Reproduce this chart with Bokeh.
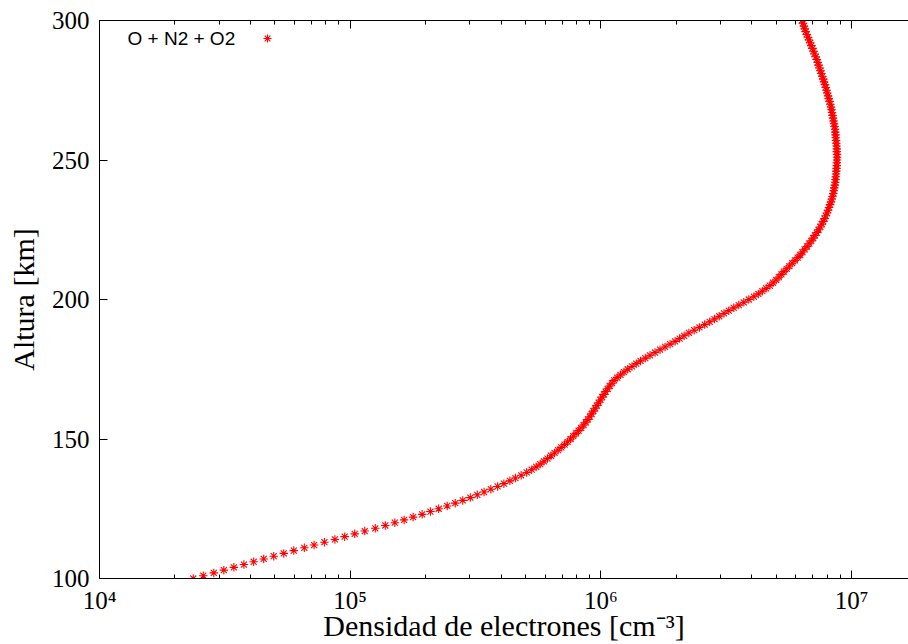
from bokeh.plotting import figure
from bokeh.models import (Range1d, FixedTicker, LogAxis, Label, Legend, LegendItem,
                          ColumnDataSource)
from bokeh.embed import file_html
from bokeh.resources import INLINE

# ---------------- data ----------------
altitude_km = [
    100, 101, 102, 103, 104, 105, 106, 107, 108, 109,
    110, 111, 112, 113, 114, 115, 116, 117, 118, 119,
    120, 121, 122, 123, 124, 125, 126, 127, 128, 129,
    130, 131, 132, 133, 134, 135, 136, 137, 138, 139,
    140, 141, 142, 143, 144, 145, 146, 147, 148, 149,
    150, 151, 152, 153, 154, 155, 156, 157, 158, 159,
    160, 161, 162, 163, 164, 165, 166, 167, 168, 169,
    170, 171, 172, 173, 174, 175, 176, 177, 178, 179,
    180, 181, 182, 183, 184, 185, 186, 187, 188, 189,
    190, 191, 192, 193, 194, 195, 196, 197, 198, 199,
    200, 201, 202, 203, 204, 205, 206, 207, 208, 209,
    210, 211, 212, 213, 214, 215, 216, 217, 218, 219,
    220, 221, 222, 223, 224, 225, 226, 227, 228, 229,
    230, 231, 232, 233, 234, 235, 236, 237, 238, 239,
    240, 241, 242, 243, 244, 245, 246, 247, 248, 249,
    250, 251, 252, 253, 254, 255, 256, 257, 258, 259,
    260, 261, 262, 263, 264, 265, 266, 267, 268, 269,
    270, 271, 272, 273, 274, 275, 276, 277, 278, 279,
    280, 281, 282, 283, 284, 285, 286, 287, 288, 289,
    290, 291, 292, 293, 294, 295, 296, 297, 298, 299,
    300,
]

# log10 of electron density [cm^-3]
log10_density = [
    4.374, 4.414, 4.456, 4.496, 4.536, 4.576, 4.615, 4.655, 4.695, 4.735,
    4.775, 4.817, 4.856, 4.897, 4.939, 4.978, 5.018, 5.058, 5.100, 5.140,
    5.178, 5.215, 5.251, 5.287, 5.320, 5.353, 5.387, 5.419, 5.449, 5.479,
    5.507, 5.534, 5.561, 5.588, 5.613, 5.637, 5.659, 5.682, 5.704, 5.724,
    5.742, 5.758, 5.773, 5.787, 5.801, 5.815, 5.829, 5.842, 5.855, 5.867,
    5.879, 5.890, 5.901, 5.911, 5.921, 5.931, 5.940, 5.948, 5.956, 5.963,
    5.970, 5.977, 5.984, 5.991, 5.998, 6.005, 6.012, 6.019, 6.027, 6.035,
    6.044, 6.053, 6.065, 6.078, 6.092, 6.107, 6.124, 6.141, 6.158, 6.177,
    6.196, 6.216, 6.236, 6.256, 6.276, 6.296, 6.314, 6.332, 6.351, 6.372,
    6.393, 6.414, 6.434, 6.453, 6.472, 6.491, 6.510, 6.530, 6.550, 6.570,
    6.590, 6.610, 6.628, 6.644, 6.659, 6.674, 6.687, 6.699, 6.710, 6.720,
    6.730, 6.741, 6.752, 6.763, 6.774, 6.785, 6.795, 6.804, 6.813, 6.822,
    6.831, 6.839, 6.847, 6.854, 6.861, 6.868, 6.875, 6.881, 6.887, 6.892,
    6.897, 6.902, 6.906, 6.910, 6.914, 6.918, 6.921, 6.924, 6.927, 6.929,
    6.931, 6.933, 6.935, 6.936, 6.937, 6.938, 6.939, 6.940, 6.941, 6.941,
    6.942, 6.942, 6.942, 6.941, 6.941, 6.940, 6.939, 6.938, 6.937, 6.936,
    6.935, 6.934, 6.932, 6.930, 6.928, 6.926, 6.924, 6.922, 6.920, 6.918,
    6.915, 6.912, 6.909, 6.906, 6.903, 6.900, 6.897, 6.894, 6.890, 6.887,
    6.883, 6.879, 6.876, 6.872, 6.868, 6.865, 6.861, 6.857, 6.852, 6.848,
    6.844, 6.839, 6.835, 6.830, 6.826, 6.821, 6.817, 6.813, 6.810, 6.806,
    6.802,
]

series_label = "O + N2 + O2"
x_major_ticks = [1e4, 1e5, 1e6, 1e7]
x_minor_ticks = [2e4, 3e4, 4e4, 5e4, 6e4, 7e4, 8e4, 9e4,
                 2e5, 3e5, 4e5, 5e5, 6e5, 7e5, 8e5, 9e5,
                 2e6, 3e6, 4e6, 5e6, 6e6, 7e6, 8e6, 9e6,
                 2e7]
x_tick_labels = {10000: "10\u2074", 100000: "10\u2075", 1000000: "10\u2076", 10000000: "10\u2077"}
y_major_ticks = [100, 150, 200, 250, 300]
x_title = "Densidad de electrones [cm\u207B\u00B3]"
y_title = "Altura [km]"

density = [10 ** v for v in log10_density]
src = ColumnDataSource(data=dict(x=density, y=altitude_km))

SERIF = "Liberation Serif"
SANS = "Liberation Sans"

p = figure(width=908, height=644, x_axis_type="log",
           x_range=Range1d(1e4, 10 ** 7.227), y_range=Range1d(100, 300),
           output_backend="svg", toolbar_location=None,
           min_border_left=99, min_border_right=0, min_border_top=20,
           min_border_bottom=66)
p.outline_line_color = None
p.background_fill_color = "white"
p.border_fill_color = "white"
p.xgrid.visible = False
p.ygrid.visible = False

xticker = FixedTicker(ticks=x_major_ticks, minor_ticks=x_minor_ticks)
yticker = FixedTicker(ticks=y_major_ticks, minor_ticks=[])

xa = p.xaxis[0]
xa.ticker = xticker
xa.major_label_overrides = x_tick_labels
xa.major_tick_in = 8
xa.major_tick_out = 0
xa.minor_tick_in = 4
xa.minor_tick_out = 0
xa.major_label_standoff = 8
xa.major_label_text_font = SERIF
xa.major_label_text_font_size = "25px"
xa.major_label_text_color = "black"
xa.axis_label = x_title
xa.axis_label_text_font = SERIF
xa.axis_label_text_font_size = "30px"
xa.axis_label_text_font_style = "normal"
xa.axis_label_text_color = "black"
xa.axis_label_standoff = -8
xa.axis_line_color = "black"
xa.major_tick_line_color = "black"
xa.minor_tick_line_color = "black"

ya = p.yaxis[0]
ya.ticker = yticker
ya.major_tick_in = 8
ya.major_tick_out = 0
ya.minor_tick_in = 0
ya.minor_tick_out = 0
ya.major_label_standoff = 10
ya.major_label_text_font = SERIF
ya.major_label_text_font_size = "25px"
ya.major_label_text_color = "black"
ya.axis_label = y_title
ya.axis_label_text_font = SERIF
ya.axis_label_text_font_size = "30px"
ya.axis_label_text_font_style = "normal"
ya.axis_label_text_color = "black"
ya.axis_label_standoff = 9
ya.axis_line_color = "black"

top = LogAxis(ticker=xticker, major_label_text_font_size="2px",
              major_label_text_alpha=0.0,
              major_label_standoff=0, major_tick_in=8, major_tick_out=0,
              minor_tick_in=4, minor_tick_out=0, axis_line_color="black")
p.add_layout(top, "above")

r = p.scatter("x", "y", source=src, marker="asterisk", size=8.5,
              line_color="#ff0000", line_width=1.1)

p.add_layout(Label(x=28, y=540, x_units="screen", y_units="screen",
                   text=series_label, text_font=SANS, text_font_size="19px",
                   text_baseline="middle", text_align="left", text_color="black"))

leg = Legend(items=[LegendItem(label=" ", renderers=[r])],
             location=(158, 530), padding=0, margin=0, spacing=0,
             glyph_width=20, glyph_height=20, label_height=20, label_width=2,
             label_standoff=0, label_text_font_size="10px",
             border_line_color=None, background_fill_alpha=0)
p.add_layout(leg, "center")

open("out.html", "w").write(file_html(p, INLINE))
